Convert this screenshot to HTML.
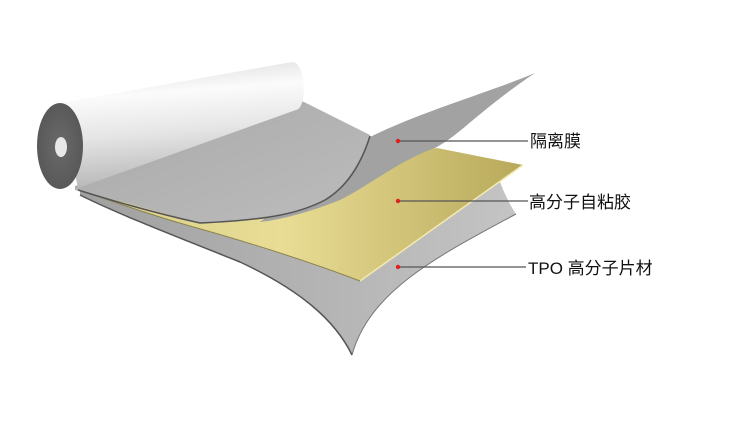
<!DOCTYPE html>
<html><head><meta charset="utf-8"><style>
html,body{margin:0;padding:0;background:#fff;width:740px;height:427px;overflow:hidden}
text{font-family:"Liberation Sans","Noto Sans CJK SC",sans-serif;font-size:17px;fill:#111}
</style></head><body>
<svg width="740" height="427" viewBox="0 0 740 427" xmlns="http://www.w3.org/2000/svg">
<defs>
<linearGradient id="cyl" x1="0" y1="0" x2="0.15" y2="1">
<stop offset="0" stop-color="#d8d8d8"/><stop offset="0.3" stop-color="#fbfbfb"/><stop offset="0.6" stop-color="#e6e6e6"/><stop offset="1" stop-color="#b8b8b8"/>
</linearGradient>
<linearGradient id="yel" x1="0" y1="0" x2="1" y2="0">
<stop offset="0" stop-color="#d8cf8a"/><stop offset="0.45" stop-color="#e9dd95"/><stop offset="1" stop-color="#b8a95a"/>
</linearGradient>
<linearGradient id="g1" x1="0" y1="0" x2="1" y2="1">
<stop offset="0" stop-color="#a9a9a9"/><stop offset="1" stop-color="#bcbcbc"/>
</linearGradient>
<linearGradient id="g2" x1="0" y1="0" x2="1" y2="0">
<stop offset="0" stop-color="#a0a0a0"/><stop offset="1" stop-color="#c4c4c4"/>
</linearGradient>
<radialGradient id="cap" cx="0.5" cy="0.5" r="0.6">
<stop offset="0" stop-color="#6a6a6a"/><stop offset="1" stop-color="#555"/>
</radialGradient>
</defs>
<!-- bottom TPO sheet -->
<path d="M80,190 L500,182 C505,195 510,205 516,214 C440,255 370,290 352,355 C335,320 300,290 240,262 C180,238 120,215 80,195 Z" fill="url(#g2)"/>
<path d="M516,214 C440,255 370,290 352,355" fill="none" stroke="#777" stroke-width="1"/>
<path d="M352,355 C335,320 300,290 240,262 C180,238 120,215 80,195" fill="none" stroke="#555" stroke-width="1.5"/>
<!-- yellow adhesive -->
<path d="M85,192 L437,148 L523,165 L360,281 C300,258 240,240 190,226 C140,212 110,200 85,192 Z" fill="url(#yel)"/>
<path d="M523,165 L360,281" stroke="#f2eab0" stroke-width="1.5"/>
<path d="M360,281 C300,258 240,240 190,226 C140,212 110,200 85,192" fill="none" stroke="#8a8450" stroke-width="1"/>
<!-- peeling release film -->
<path d="M535,73 C480,110 460,135 435,148 C400,160 370,185 340,200 C310,212 280,220 260,222 L370,137 C420,112 490,92 535,73 Z" fill="#a2a2a2"/>
<!-- flat grey sheet under roll -->
<path d="M75,186 L300,100 L370,135 C360,165 345,185 330,197 C300,213 270,220 200,223 C150,210 110,198 75,190 Z" fill="url(#g1)"/>
<path d="M370,136 C360,168 345,188 325,200 C300,213 270,220 200,223 C150,212 110,200 78,190" fill="none" stroke="#555" stroke-width="1.5"/>
<!-- roll body -->
<path d="M60,103 L292,62 C306,62 308,108 296,110 L78,188 Z" fill="url(#cyl)"/>
<ellipse cx="60" cy="146" rx="23" ry="43" fill="url(#cap)"/>
<ellipse cx="61" cy="147" rx="6" ry="10" fill="#e8e8e8"/>
<!-- leaders -->
<g stroke="#555" stroke-width="1.2">
<line x1="398" y1="141" x2="528" y2="141"/>
<line x1="398" y1="201" x2="528" y2="201"/>
<line x1="398" y1="267" x2="526" y2="267"/>
</g>
<g fill="#e02020">
<circle cx="398" cy="141" r="2.2"/><circle cx="398" cy="201" r="2.2"/><circle cx="398" cy="267" r="2.2"/>
</g>
<text x="530" y="147">隔离膜</text>
<text x="529" y="208">高分子自粘胶</text>
<text x="528" y="274">TPO 高分子片材</text>
</svg>
</body></html>
